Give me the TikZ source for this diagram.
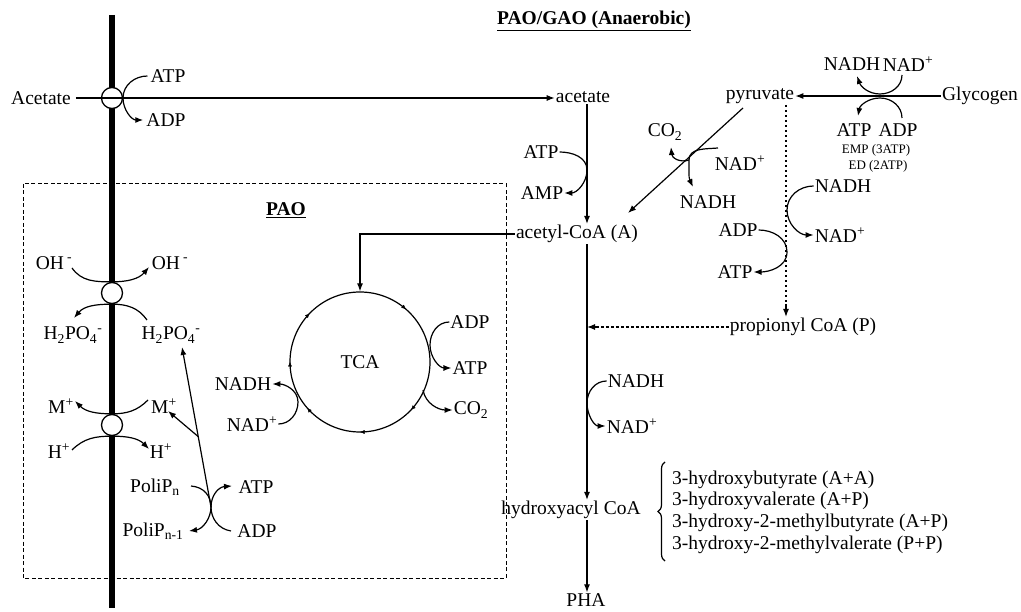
\documentclass[tikz,border=0pt]{standalone}
\usepackage{fontspec}
\setmainfont{Liberation Serif}
\usetikzlibrary{arrows.meta,decorations.markings,decorations.pathreplacing,calc}
\begin{document}
\begin{tikzpicture}[x=1pt,y=1pt,
 lbl/.style={font=\fontsize{19.5}{22}\selectfont, inner sep=1pt},
 sml/.style={font=\fontsize{13}{15}\selectfont, inner sep=1pt},
 arr/.style={-{Latex[length=8pt,width=6pt]}, line width=1.2pt},
 crv/.style={line width=1.2pt},
 dotl/.style={line width=1.4pt, dash pattern=on 2.2pt off 2.8pt},
 port/.style={circle, draw, line width=1.3pt, fill=white, minimum size=21pt, inner sep=0pt},
 membr/.style={line width=5.5pt},
 boxl/.style={line width=1pt, dash pattern=on 4pt off 2.5pt},
 tick/.style={decoration={markings,
   mark=at position 0.136 with {\arrowreversed{Latex[length=4.5pt,width=4pt]}},
   mark=at position 0.378 with {\arrowreversed{Latex[length=4.5pt,width=4pt]}},
   mark=at position 0.5 with {\arrowreversed{Latex[length=4.5pt,width=4pt]}},
   mark=at position 0.614 with {\arrowreversed{Latex[length=4.5pt,width=4pt]}},
   mark=at position 0.75 with {\arrowreversed{Latex[length=4.5pt,width=4pt]}},
   mark=at position 0.88 with {\arrowreversed{Latex[length=4.5pt,width=4pt]}}},
   postaction={decorate}}
]
\useasboundingbox (0,0) rectangle (1021,-612);

% PAO box and membrane
\draw[boxl] (23,-184) rectangle (506,-578);
\coordinate (memTop) at (112,-15);
\coordinate (memBot) at (112,-608);
\draw[membr] (memTop) -- (memBot);

% transport ports
\node[port] (p1) at (112,-98) {};
\node[port] (p2) at (112,-293) {};
\node[port] (p3) at (112,-425) {};

% titles
\node[lbl] (title) at (594,-21) {\textbf{\underline{PAO/GAO (Anaerobic)}}};
\node[lbl] (pao) at (286,-210) {\textbf{\underline{PAO}}};

% acetate uptake
\node[lbl] (Acet) at (41,-98) {Acetate};
\node[lbl] (acet) at (583,-97) {acetate};
\draw[arr] ([xshift=4pt]Acet.east) -- (acet.west |- Acet.east);
\node[lbl] (atpA) at (168,-76) {ATP};
\node[lbl] (adpA) at (166,-120) {ADP};
\coordinate (jA) at (123,-98);
\draw[arr] ([xshift=-2pt]atpA.west) to[out=180,in=90] (jA) to[out=-90,in=180] ([xshift=-2pt]adpA.west);

% OH / H2PO4 antiport
\node[lbl] (ohL) at (54,-263) {OH\,\textsuperscript{-}};
\node[lbl] (ohR) at (170,-263) {OH\,\textsuperscript{-}};
\node[lbl] (hpoL) at (73,-335) {H\textsubscript{2}PO\textsubscript{4}\textsuperscript{-}};
\node[lbl] (hpoR) at (171,-335) {H\textsubscript{2}PO\textsubscript{4}\textsuperscript{-}};
\coordinate (oh1) at (72,-268);
\coordinate (oh2) at (149,-267);
\coordinate (hp1) at (147,-320);
\coordinate (hp2) at (74,-318);
\draw[arr] (oh1) to[out=-55,in=180] (p2.north) to[out=0,in=-130] (oh2);
\draw[arr] (hp1) to[out=125,in=0] (p2.south) to[out=180,in=50] (hp2);

% M+ / H+ antiport
\node[lbl] (mL) at (61,-406) {M\textsuperscript{+}};
\node[lbl] (mR) at (164,-406) {M\textsuperscript{+}};
\node[lbl] (hL) at (59,-451) {H\textsuperscript{+}};
\node[lbl] (hR) at (161,-451) {H\textsuperscript{+}};
\coordinate (m1) at (148,-400);
\coordinate (m2) at (75,-401);
\coordinate (h1) at (72,-450);
\coordinate (h2) at (149,-449);
\draw[arr] (m1) to[out=-135,in=0] (p3.north) to[out=180,in=-45] (m2);
\draw[arr] (h1) to[out=45,in=180] (p3.south) to[out=0,in=135] (h2);

% polyphosphate
\node[lbl] (poln) at (155,-487) {PoliP\textsubscript{n}};
\node[lbl] (poln1) at (153,-531) {PoliP\textsubscript{n-1}};
\node[lbl] (atpP) at (256,-487) {ATP};
\node[lbl] (adpP) at (257,-531) {ADP};
\coordinate (jP) at (211,-507);
\draw[arr] (191,-486) .. controls (204,-487) and (211,-496) .. (jP) .. controls (211,-518) and (203,-529) .. (189,-531);
\draw[arr] (231,-531) .. controls (218,-529) and (211,-518) .. (jP) .. controls (211,-496) and (218,-487) .. (232,-486);
\coordinate (hpTip) at (182,-347);
\draw[arr] (jP) -- (hpTip);
\coordinate (mB) at ($(jP)!0.44!(hpTip)$);
\coordinate (mTip) at (168,-411);
\draw[arr] (mB) -- (mTip);

% TCA cycle
\node[circle, draw, line width=1.2pt, minimum size=140pt, inner sep=0pt, lbl] (tca) at (360,-362) {TCA};
\path[tick] (tca.center) circle[radius=70];
\node[lbl] (acoa) at (577,-234) {acetyl-CoA (A)};
\draw[arr] (acoa.west) -| (tca.north);
\node[lbl] (adpT) at (470,-322) {ADP};
\node[lbl] (atpT) at (470,-368) {ATP};
\node[lbl] (co2T) at (471,-410) {CO\textsubscript{2}};
\coordinate (jT1) at (430,-345);
\draw[arr] (adpT.west) to[out=180,in=90] (jT1) to[out=-90,in=180] (atpT.west);
\coordinate (jT2) at (423,-390);
\draw[arr] (jT2) to[out=-80,in=180] (co2T.west);
\node[lbl] (nadhT) at (243,-384) {NADH};
\node[lbl] (nadT) at (252,-424) {NAD\textsuperscript{+}};
\coordinate (jT3) at (298,-402);
\draw[arr] (nadT.east) to[out=0,in=-90] (jT3) to[out=90,in=0] (nadhT.east);

% acetate -> acetyl-CoA
\coordinate (mx) at (587,0);
\draw[arr] (acet.south -| mx) -- (acoa.north -| mx);
\node[lbl] (atpB) at (541,-152) {ATP};
\node[lbl] (amp) at (542,-193) {AMP};
\coordinate (jB) at (587,-170);
\draw[arr] (atpB.east) to[out=0,in=90] (jB) to[out=-90,in=0] (amp.east);

% glycogen -> pyruvate
\node[lbl] (pyr) at (760,-96) {pyruvate};
\node[lbl] (glyc) at (980,-96) {Glycogen};
\draw[arr] (glyc.west) -- (pyr.east);
\node[lbl] (nadhG) at (852,-64) {NADH};
\node[lbl] (nadG) at (908,-64) {NAD\textsuperscript{+}};
\node[lbl] (atpG) at (854,-130) {ATP};
\node[lbl] (adpG) at (898,-130) {ADP};
\node[sml] (emp) at (876,-150) {EMP (3ATP)};
\node[sml] (ed) at (878,-166) {ED (2ATP)};
\coordinate (jG1) at (880,-94);
\coordinate (jG2) at (880,-98);
\draw[arr] (902,-75) to[out=-90,in=0] (jG1) to[out=180,in=-70] (857,-76);
\draw[arr] (902,-118) to[out=90,in=0] (jG2) to[out=180,in=80] (858,-116);

% pyruvate -> acetyl-CoA
\coordinate (pyA) at (743,-108);
\coordinate (pyB) at (628,-213);
\draw[arr] (pyA) -- (pyB);
\node[lbl] (co2p) at (665,-132) {CO\textsubscript{2}};
\node[lbl] (nadp) at (740,-163) {NAD\textsuperscript{+}};
\node[lbl] (nadhp) at (708,-202) {NADH};
\coordinate (jD) at (689,-160);
\draw[arr] (718,-148) to[out=185,in=90] (jD) to[out=-90,in=115] (693,-187);
\draw[arr] (jD) .. controls (680,-163) and (672,-158) .. (671,-147);

% pyruvate -> propionyl CoA
\coordinate (dx) at (786,0);
\node[lbl] (prop) at (803,-327) {propionyl CoA (P)};
\draw[dotl] (pyr.south -| dx) -- (786,-305);
\draw[arr] (786,-304) -- (prop.north -| dx);
\node[lbl] (nadhQ) at (843,-186) {NADH};
\node[lbl] (nadQ) at (840,-235) {NAD\textsuperscript{+}};
\coordinate (jQ1) at (787,-210);
\draw[arr] (nadhQ.west) to[out=180,in=90] (jQ1) to[out=-90,in=180] (nadQ.west);
\node[lbl] (adpQ) at (738,-230) {ADP};
\node[lbl] (atpQ) at (735,-272) {ATP};
\coordinate (jQ2) at (787,-252);
\draw[arr] (adpQ.east) to[out=0,in=90] (jQ2) to[out=-90,in=0] (atpQ.east);
\draw[dotl] (prop.west) -- (595,-327);
\draw[arr] (596,-327) -- (prop.west -| mx);

% acetyl-CoA -> hydroxyacyl CoA -> PHA
\node[lbl] (hacoa) at (571,-510) {hydroxyacyl CoA};
\node[lbl] (pha) at (586,-600) {PHA};
\draw[arr] (acoa.south -| mx) -- (hacoa.north -| mx);
\node[lbl] (nadhM) at (636,-381) {NADH};
\node[lbl] (nadM) at (632,-426) {NAD\textsuperscript{+}};
\coordinate (jM) at (587,-403);
\draw[arr] (nadhM.west) to[out=180,in=90] (jM) to[out=-90,in=180] (nadM.west);
\draw[arr] (hacoa.south -| mx) -- (pha.north -| mx);

% brace and products
\draw[crv, decorate, decoration={brace, amplitude=7pt}] (665,-561) -- (665,-462);
\node[lbl, anchor=west] (pr1) at (671,-480) {3-hydroxybutyrate (A+A)};
\node[lbl, anchor=west] (pr2) at (671,-501) {3-hydroxyvalerate (A+P)};
\node[lbl, anchor=west] (pr3) at (671,-523) {3-hydroxy-2-methylbutyrate (A+P)};
\node[lbl, anchor=west] (pr4) at (671,-545) {3-hydroxy-2-methylvalerate (P+P)};
\end{tikzpicture}
\end{document}
